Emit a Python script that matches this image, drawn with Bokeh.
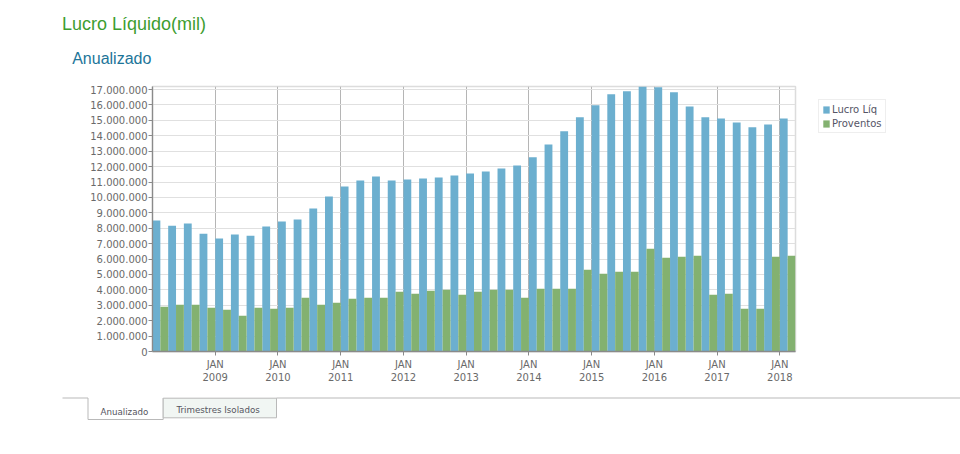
from bokeh.plotting import figure
from bokeh.models import Range1d, FixedTicker, Legend, LegendItem, ColumnDataSource
from bokeh.transform import dodge
from bokeh.embed import file_html
from bokeh.resources import INLINE
from bokeh.core.properties import value

# ---- data (quarterly, Q1 2008 .. Q1 2018), values in millions of "mil"
anos = [2008, 2008, 2008, 2008, 2009, 2009, 2009, 2009, 2010, 2010, 2010, 2010,
        2011, 2011, 2011, 2011, 2012, 2012, 2012, 2012, 2013, 2013, 2013, 2013,
        2014, 2014, 2014, 2014, 2015, 2015, 2015, 2015, 2016, 2016, 2016, 2016,
        2017, 2017, 2017, 2017, 2018]
trimestres = [1, 2, 3, 4] * 10 + [1]

lucro_liq = [8.50, 8.17, 8.30, 7.65, 7.33, 7.59, 7.52, 8.11, 8.43, 8.56,
             9.28, 10.06, 10.71, 11.10, 11.36, 11.10, 11.16, 11.23, 11.30, 11.42,
             11.55, 11.68, 11.88, 12.08, 12.60, 13.44, 14.29, 15.20, 15.98, 16.70,
             16.89, 17.20, 17.15, 16.82, 15.91, 15.20, 15.13, 14.87, 14.55, 14.74,
             15.13]
proventos = [2.91, 3.04, 3.04, 2.84, 2.71, 2.32, 2.84, 2.78, 2.84, 3.49,
             3.04, 3.17, 3.43, 3.49, 3.49, 3.88, 3.75, 3.95, 4.01, 3.69,
             3.88, 4.01, 4.01, 3.49, 4.08, 4.08, 4.08, 5.30, 5.04, 5.17,
             5.17, 6.67, 6.09, 6.15, 6.22, 3.69, 3.75, 2.78, 2.78, 6.15,
             6.22]

tick_years = [2009, 2010, 2011, 2012, 2013, 2014, 2015, 2016, 2017, 2018]
tick_month = "JAN"
y_ticks_mi = list(range(0, 18))

serie_nomes = ["Lucro Líq", "Proventos"]
titulo = "Lucro Líquido(mil)"
subtitulo = "Anualizado"
abas = ["Anualizado", "Trimestres Isolados"]

BLUE = "#6cafcf"
GREEN = "#83b170"
FONT = "DejaVu Sans"

x_pos = [a + (t - 1) / 4 for a, t in zip(anos, trimestres)]
src = ColumnDataSource(dict(
    x=x_pos,
    lucro=[v * 1e6 for v in lucro_liq],
    prov=[v * 1e6 for v in proventos],
))

W = 960

# ---- title figure (page y 0..78)
t = figure(width=W, height=78, x_range=Range1d(0, W), y_range=Range1d(78, 0),
           toolbar_location=None, output_backend="svg", min_border=0,
           x_axis_location=None, y_axis_location=None)
t.grid.visible = False
t.outline_line_color = None
t.text(x=[61.4], y=[23], text=[titulo], text_font=value("Liberation Sans"),
       text_font_size="18px", text_color="#3d9d30", text_baseline="alphabetic")
t.text(x=[71.7], y=[58], text=[subtitulo], text_font=value("Liberation Sans"),
       text_font_size="16px", text_color="#1d7599", text_baseline="alphabetic")

# ---- chart figure (page y 78..392)
p = figure(frame_width=643, frame_height=265, x_range=Range1d(2008, 2018.25),
           y_range=Range1d(0, 17.2e6), toolbar_location=None, output_backend="svg",
           min_border_left=152, min_border_right=165, min_border_top=8,
           min_border_bottom=41)
p.background_fill_color = "white"
p.border_fill_color = "white"
p.outline_line_color = "#dcdcdc"
p.outline_line_width = 1.5

r1 = p.vbar(x=dodge("x", 0.0625, range=p.x_range), top="lucro", width=0.125,
            source=src, fill_color=BLUE, line_color=None)
r2 = p.vbar(x=dodge("x", 0.1875, range=p.x_range), top="prov", width=0.125,
            source=src, fill_color=GREEN, line_color=None)

xt = FixedTicker(ticks=tick_years, minor_ticks=[])
p.xaxis.ticker = xt
p.xgrid.ticker = xt
p.xaxis.major_label_overrides = {y: f"{tick_month}\n{y}" for y in tick_years}
yt = FixedTicker(ticks=[v * 1_000_000 for v in y_ticks_mi], minor_ticks=[])
p.yaxis.ticker = yt
p.ygrid.ticker = yt
p.yaxis.major_label_overrides = {v * 1_000_000: f"{v * 1_000_000:,}".replace(",", ".")
                                 for v in y_ticks_mi}

for ax in (p.xaxis, p.yaxis):
    ax.axis_line_color = "#8a8a8a"
    ax.axis_line_width = 1.3
    ax.major_tick_line_color = "#8a8a8a"
    ax.major_tick_in = 0
    ax.major_tick_out = 4
    ax.minor_tick_line_color = None
    ax.major_label_text_font = FONT
    ax.major_label_text_font_size = "10px"
    ax.major_label_text_color = "#6a6a6a"
p.yaxis.major_label_standoff = 1
p.xaxis.major_label_standoff = 3

p.xgrid.grid_line_color = "#b5b5b5"
p.ygrid.grid_line_color = "#e0e0e0"
p.ygrid.grid_line_width = 1.2

legend = Legend(items=[LegendItem(label=serie_nomes[0], renderers=[r1]),
                       LegendItem(label=serie_nomes[1], renderers=[r2])],
                location=(23, 218), orientation="vertical",
                border_line_color="#dddddd", border_line_width=1,
                background_fill_color="white",
                label_text_font=FONT, label_text_font_size="10px",
                label_text_color="#555566",
                glyph_width=8, glyph_height=9, label_standoff=2,
                padding=3, spacing=2, margin=0, label_height=12)
p.add_layout(legend, "right")

# ---- tabs figure (page y 392..440)
b = figure(width=W, height=48, x_range=Range1d(0, W), y_range=Range1d(48, 0),
           toolbar_location=None, output_backend="svg", min_border=0,
           x_axis_location=None, y_axis_location=None)
b.grid.visible = False
b.outline_line_color = None
LINE = "#b9b9b9"
b.line(x=[62, 87.5, 87.5, 162.7, 162.7], y=[5.5, 5.5, 27, 27, 5.5],
       line_color=LINE, line_width=1)
b.quad(left=[162.7], right=[276], top=[5.7], bottom=[25.3],
       fill_color="#f1f6f3", line_color=LINE, line_width=1)
b.line(x=[276, W], y=[5.5, 5.5], line_color=LINE, line_width=1)
b.text(x=[100, 176], y=[19, 17.5], text=abas, text_font=value(FONT),
       text_font_size="8.7px", text_color="#555560", text_baseline="alphabetic")

open("out.html", "w").write(file_html([t, p, b], INLINE))
